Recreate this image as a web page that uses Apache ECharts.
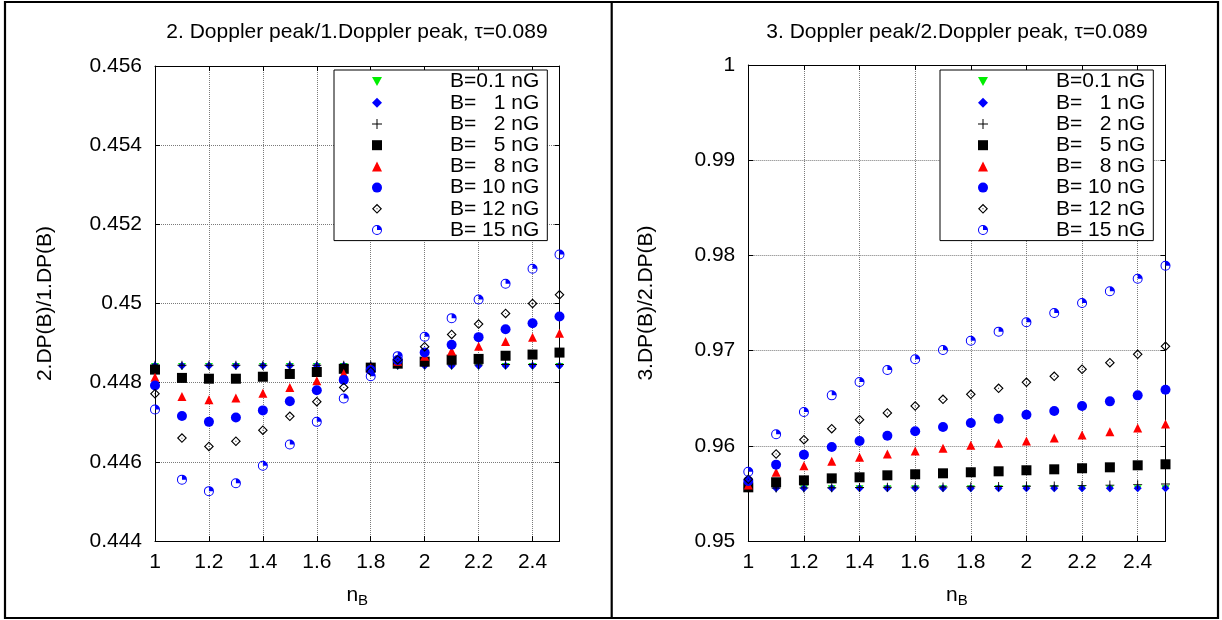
<!DOCTYPE html>
<html><head><meta charset="utf-8">
<script src="https://cdn.jsdelivr.net/npm/echarts@6/dist/echarts.min.js"></script>
<style>html,body{margin:0;padding:0;background:#fff}#c{width:1222px;height:620px}</style>
</head><body><div id="c"></div>
<script>
// ---------------- data ----------------
const nB = [1.0,1.1,1.2,1.3,1.4,1.5,1.6,1.7,1.8,1.9,2.0,2.1,2.2,2.3,2.4,2.5];
const seriesNames = ['B=0.1 nG','B=   1 nG','B=   2 nG','B=   5 nG','B=   8 nG','B= 10 nG','B= 12 nG','B= 15 nG'];

// left panel: 2.DP(B)/1.DP(B)
const left_B01 = [0.44841,0.44841,0.44841,0.44841,0.44841,0.44841,0.44841,0.44841,0.44841,0.44841,0.44841,0.44841,0.44841,0.44841,0.44841,0.44841];
const left_B1  = [0.44843,0.44843,0.44843,0.44843,0.44843,0.44843,0.44843,0.44843,0.44843,0.44843,0.44843,0.44843,0.44843,0.44843,0.44843,0.44843];
const left_B2  = [0.44844,0.44844,0.44844,0.44844,0.44844,0.44844,0.44844,0.44844,0.44844,0.44845,0.44845,0.44845,0.44845,0.44846,0.44846,0.44846];
const left_B5  = [0.44833,0.44812,0.44810,0.44810,0.44815,0.44822,0.44827,0.44835,0.44838,0.44848,0.44853,0.44858,0.44860,0.44868,0.44871,0.44876];
const left_B8  = [0.44814,0.44765,0.44757,0.44761,0.44773,0.44788,0.44805,0.44823,0.44837,0.44854,0.44867,0.44880,0.44892,0.44904,0.44915,0.44925];
const left_B10 = [0.44793,0.44716,0.44701,0.44712,0.44730,0.44753,0.44781,0.44807,0.44832,0.44857,0.44876,0.44896,0.44915,0.44935,0.44950,0.44967];
const left_B12 = [0.44772,0.44660,0.44639,0.44652,0.44680,0.44715,0.44752,0.44788,0.44829,0.44858,0.44891,0.44922,0.44948,0.44975,0.45000,0.45022];
const left_B15 = [0.44732,0.44555,0.44526,0.44546,0.44590,0.44644,0.44701,0.44760,0.44816,0.44867,0.44916,0.44963,0.45010,0.45050,0.45088,0.45124];

// right panel: 3.DP(B)/2.DP(B)
const right_B01 = [0.95549,0.95549,0.95549,0.95549,0.95549,0.95549,0.95549,0.95549,0.95549,0.95549,0.95549,0.95549,0.95549,0.95549,0.95549,0.95549];
const right_B1  = [0.95553,0.95553,0.95553,0.95553,0.95553,0.95553,0.95553,0.95553,0.95553,0.95553,0.95553,0.95553,0.95553,0.95553,0.95553,0.95553];
const right_B2  = [0.95557,0.95557,0.95558,0.95560,0.95562,0.95564,0.95566,0.95568,0.95570,0.95572,0.95575,0.95578,0.95582,0.95587,0.95592,0.95598];
const right_B5  = [0.95564,0.95617,0.95637,0.95658,0.95669,0.95690,0.95701,0.95711,0.95722,0.95732,0.95743,0.95753,0.95764,0.95774,0.95795,0.95806];
const right_B8  = [0.95588,0.95722,0.95791,0.95837,0.95879,0.95914,0.95945,0.95974,0.96005,0.96026,0.96050,0.96082,0.96113,0.96148,0.96187,0.96229];
const right_B10 = [0.95630,0.95802,0.95907,0.95987,0.96050,0.96106,0.96152,0.96197,0.96239,0.96285,0.96327,0.96366,0.96418,0.96467,0.96530,0.96589];
const right_B12 = [0.95648,0.95914,0.96064,0.96180,0.96274,0.96345,0.96418,0.96488,0.96541,0.96604,0.96667,0.96730,0.96804,0.96873,0.96961,0.97045];
const right_B15 = [0.95728,0.96121,0.96355,0.96530,0.96670,0.96796,0.96909,0.97006,0.97104,0.97199,0.97297,0.97395,0.97500,0.97623,0.97755,0.97892];

// axes / ticks
const xTicks = [1, 1.2, 1.4, 1.6, 1.8, 2, 2.2, 2.4];
const xMax = 2.5, xInterval = 0.2;
const yTicksLeft = [0.444, 0.446, 0.448, 0.45, 0.452, 0.454, 0.456];
const yIntervalLeft = 0.002;
const yTicksRight = [0.95, 0.96, 0.97, 0.98, 0.99, 1];
const yIntervalRight = 0.01;

const titles = ['2. Doppler peak/1.Doppler peak, \u03c4=0.089', '3. Doppler peak/2.Doppler peak, \u03c4=0.089'];
const yNames = ['2.DP(B)/1.DP(B)', '3.DP(B)/2.DP(B)'];

// ---------------- styles ----------------
const FONT = 'Liberation Sans, Arial, Helvetica, sans-serif';
const TRIDOWN = 'path://M0,0L10,0L5,9Z';
const PLUS = 'path://M4.5,0H5.5V4.5H10V5.5H5.5V10H4.5V5.5H0V4.5H4.5Z';
const ODIAMOND = 'path://M5,0L10,5L5,10L0,5Z M5,1.6L1.6,5L5,8.4L8.4,5Z M4.55,4.55H5.45V5.45H4.55Z';
const PIE = 'path://M10,0A10,10,0,1,1,10,20A10,10,0,1,1,10,0Z M10,2A8,8,0,1,0,10,18A8,8,0,1,0,10,2Z M10,10L10,2A8,8,0,0,1,18,10Z';
const styles = [
  {symbol:TRIDOWN, size:[8,7], color:'#00ee00'},
  {symbol:'diamond', size:8, color:'#0000ff'},
  {symbol:PLUS, size:9, color:'#000000'},
  {symbol:'rect', size:10, color:'#000000'},
  {symbol:'triangle', size:9, color:'#ff0000'},
  {symbol:'circle', size:10, color:'#0000ff'},
  {symbol:ODIAMOND, size:10, color:'#000000'},
  {symbol:PIE, size:10, color:'#0000ff'}
];
const leftData = [left_B01,left_B1,left_B2,left_B5,left_B8,left_B10,left_B12,left_B15];
const rightData = [right_B01,right_B1,right_B2,right_B5,right_B8,right_B10,right_B12,right_B15];

const grids = [
  {left:155, top:66, width:404.5, height:475},
  {left:748.3, top:65, width:417.2, height:476}
];

function mkSeries(vals, gi) {
  return vals.map((arr, k) => ({
    type:'scatter', name: seriesNames[k],
    xAxisIndex: gi*2, yAxisIndex: gi*2,
    data: nB.map((x, i) => [x, arr[i]]),
    symbol: styles[k].symbol, symbolSize: styles[k].size,
    itemStyle: {color: styles[k].color, opacity: 1},
    emphasis: {disabled: true}, animation: false, z: 3 + k * 0.01
  }));
}

const gridLine = {show:true, lineStyle:{color:'#7a7a7a', type:'dotted', width:1}};
const axisLineS = {show:true, onZero:false, lineStyle:{color:'#000', width:1}};
const tickS = {show:true, inside:true, length:5, lineStyle:{color:'#000', width:1}};
const lblS = {fontSize:21, color:'#000', fontFamily:FONT};

function xAxes(gi) {
  return [
    {type:'value', gridIndex:gi, position:'bottom', min:xTicks[0], max:xMax, interval:xInterval,
     axisLine:axisLineS, axisTick:tickS, splitLine:gridLine,
     axisLabel:Object.assign({margin:11, showMaxLabel:false}, lblS),
     name:'{n|n}{s|B}', nameLocation:'middle', nameGap:44,
     nameTextStyle:{fontFamily:FONT, color:'#000', rich:{
       n:{fontSize:21, fontFamily:FONT, color:'#000', lineHeight:23, verticalAlign:'top'},
       s:{fontSize:15, fontFamily:FONT, color:'#000', lineHeight:15, verticalAlign:'bottom'}}}},
    {type:'value', gridIndex:gi, position:'top', min:xTicks[0], max:xMax, interval:xInterval,
     axisLine:axisLineS, axisTick:tickS, splitLine:{show:false}, axisLabel:{show:false}}
  ];
}
function yAxes(gi, ticks, interval, gap) {
  return [
    {type:'value', gridIndex:gi, position:'left', min:ticks[0], max:ticks[ticks.length-1], interval:interval,
     axisLine:axisLineS, axisTick:tickS, splitLine:gridLine,
     axisLabel:Object.assign({margin:13}, lblS),
     name:yNames[gi], nameLocation:'middle', nameRotate:90, nameGap:gap,
     nameTextStyle:{fontSize:21, color:'#000', fontFamily:FONT}},
    {type:'value', gridIndex:gi, position:'right', min:ticks[0], max:ticks[ticks.length-1], interval:interval,
     axisLine:axisLineS, axisTick:tickS, splitLine:{show:false}, axisLabel:{show:false}}
  ];
}

function mkLegend(left) {
  return {
    orient:'vertical', left:left, top:70, padding:[1,8,0,38],
    borderColor:'#000', borderWidth:1, backgroundColor:'#fff',
    itemWidth:10, itemHeight:10, itemGap:0, selectedMode:false,
    textStyle:{fontSize:21, fontFamily:FONT, color:'#000', lineHeight:21.2, padding:[0,0,0,63]},
    data: seriesNames.slice()
  };
}

const chart = echarts.init(document.getElementById('c'), null, {renderer:'canvas'});
chart.setOption({
  animation:false,
  backgroundColor:'#fff',
  textStyle:{fontFamily:FONT},
  title:[
    {text:titles[0], left:357, top:22, textAlign:'center', padding:0,
     textStyle:{fontSize:21, fontWeight:'normal', color:'#000', fontFamily:FONT}},
    {text:titles[1], left:957, top:22, textAlign:'center', padding:0,
     textStyle:{fontSize:21, fontWeight:'normal', color:'#000', fontFamily:FONT}}
  ],
  legend:[mkLegend(334), mkLegend(940)],
  grid:grids,
  xAxis:[].concat(xAxes(0), xAxes(1)),
  yAxis:[].concat(yAxes(0, yTicksLeft, yIntervalLeft, 99), yAxes(1, yTicksRight, yIntervalRight, 92)),
  series:[].concat(mkSeries(leftData, 0), mkSeries(rightData, 1)),
  graphic:[
    {type:'rect', shape:{x:5, y:2, width:1213, height:616}, style:{fill:'none', stroke:'#000', lineWidth:2.2}, silent:true, z:100},
    {type:'line', shape:{x1:611.7, y1:2, x2:611.7, y2:618}, style:{stroke:'#000', lineWidth:2.2}, silent:true, z:100}
  ]
});
</script>
</body></html>
